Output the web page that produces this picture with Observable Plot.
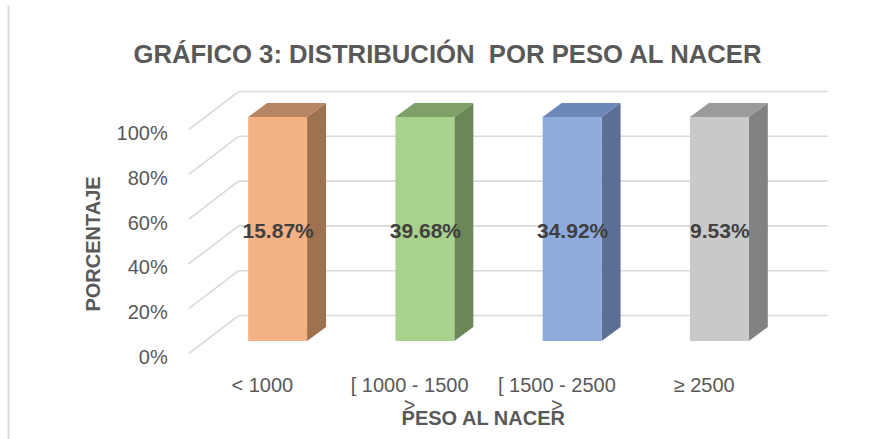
<!DOCTYPE html>
<html>
<head>
<meta charset="utf-8">
<script src="https://cdn.jsdelivr.net/npm/d3@7"></script>
<script src="https://cdn.jsdelivr.net/npm/@observablehq/plot@0.6"></script>
<style>
  html, body { margin: 0; padding: 0; background: #ffffff; }
  #chart { width: 878px; height: 439px; overflow: hidden; }
</style>
</head>
<body>
<div id="chart"></div>
<script>
// ---- data ----
const categories = ["< 1000", "[ 1000 - 1500>", "[ 1500 - 2500>", "≥ 2500"];
const percentages = [15.87, 39.68, 34.92, 9.53];     // data labels
const barShare = [100, 100, 100, 100];               // 100% stacked column heights
const yTicks = [0, 20, 40, 60, 80, 100];
const chartTitle = "GRÁFICO 3: DISTRIBUCIÓN\u00a0 POR PESO AL NACER";
const xTitle = "PESO AL NACER";
const yTitle = "PORCENTAJE";

// ---- styles ----
const frontColors = ["#F4B183", "#A9D18E", "#8FAADC", "#C9C9C9"];
const sideColors  = ["#9E714F", "#6B8757", "#5B6F94", "#828282"];
const topColors   = ["#B78564", "#7FA068", "#6D87B8", "#9B9B9B"];
const gridColor = "#D9D9D9";
const textColor = "#595959";

// ---- oblique 3D projection (in data units) ----
const HALF = 0.2;                       // half bar width (category units)
const BAR_DX = 0.129, BAR_DY = 6.25;    // bar depth
const FRONT_DX = -0.107, FRONT_DY = -5.36; // front edge of floor relative to bar front
const BACK_DX = 0.232, BACK_DY = 11.6;     // back wall relative to bar front
const WALL = [-0.5, 3.5];

const bars = categories.map((cat, i) => ({i, cat, h: barShare[i], pct: percentages[i]}));
const sideRows = bars.flatMap(d => [
  {i: d.i, x: d.i + HALF, y1: 0, y2: d.h},
  {i: d.i, x: d.i + HALF + BAR_DX, y1: BAR_DY, y2: d.h + BAR_DY}
]);
const topRows = bars.flatMap(d => [
  {i: d.i, y: d.h, x1: d.i - HALF, x2: d.i + HALF},
  {i: d.i, y: d.h + BAR_DY, x1: d.i - HALF + BAR_DX, x2: d.i + HALF + BAR_DX}
]);

const font = "'Liberation Sans', Arial, sans-serif";

const svg = Plot.plot({
  width: 878,
  height: 439,
  marginLeft: 204,
  marginRight: 85,
  marginTop: 117,
  marginBottom: 98,
  style: {fontFamily: font, background: "#ffffff", overflow: "visible"},
  x: {type: "linear", domain: WALL, axis: null},
  y: {type: "linear", domain: [0, 100], axis: null},
  color: {type: "identity"},
  marks: [
    // back wall gridlines
    Plot.link(yTicks, {
      x1: () => WALL[0] + BACK_DX, x2: () => WALL[1] + BACK_DX,
      y1: t => t + BACK_DY, y2: t => t + BACK_DY,
      stroke: gridColor, strokeWidth: 1.6
    }),
    // side wall diagonals
    Plot.link(yTicks, {
      x1: () => WALL[0] + FRONT_DX, y1: t => t + FRONT_DY,
      x2: () => WALL[0] + BACK_DX, y2: t => t + BACK_DY,
      stroke: gridColor, strokeWidth: 1.6
    }),
    // bar side faces
    Plot.areaY(sideRows, {x: "x", y1: "y1", y2: "y2", z: "i", fill: d => sideColors[d.i], curve: "linear"}),
    // bar top faces
    Plot.areaX(topRows, {y: "y", x1: "x1", x2: "x2", z: "i", fill: d => topColors[d.i], curve: "linear"}),
    // bar front faces
    Plot.rect(bars, {x1: d => d.i - HALF, x2: d => d.i + HALF, y1: () => 0, y2: "h", fill: d => frontColors[d.i]}),
    // value labels
    Plot.text(bars, {
      x: "i", y: d => d.h / 2, text: d => d.pct.toFixed(2) + "%",
      fontSize: 21, fontWeight: "bold", fill: "#404040", dy: 2
    }),
    // y tick labels
    Plot.text(yTicks, {
      x: () => WALL[0] + FRONT_DX, y: t => t + FRONT_DY, text: t => t + "%",
      textAnchor: "end", dx: -21, dy: 4, fontSize: 20, fill: textColor
    }),
    // category labels
    Plot.text(bars, {
      x: d => d.i + FRONT_DX, y: () => FRONT_DY,
      text: d => d.cat.replace(/>$/, "\n>"),
      lineAnchor: "top", lineHeight: 0.98, dy: 25, fontSize: 20, fill: textColor
    }),
    // x axis title
    Plot.text([xTitle], {
      x: () => (categories.length - 1) / 2 + FRONT_DX, y: () => FRONT_DY, text: d => d,
      dy: 65, fontSize: 20, fontWeight: "bold", fill: textColor
    }),
    // y axis title
    Plot.text([yTitle], {
      x: () => WALL[0] + FRONT_DX, y: () => 50 + FRONT_DY, text: d => d,
      rotate: -90, dx: -95, dy: 2.5, fontSize: 20, fontWeight: "bold", fill: textColor
    }),
    // chart title
    Plot.text([chartTitle], {
      frameAnchor: "top-left", textAnchor: "middle", text: d => d, dx: 243, dy: -73,
      fontSize: 25.7, fontWeight: "bold", fill: textColor
    })
  ]
});

// chart-area border (left edge visible in the reference)
d3.select(svg).append("line")
  .attr("x1", 8.5).attr("x2", 8.5).attr("y1", 6).attr("y2", 439)
  .attr("stroke", gridColor).attr("stroke-width", 2);

document.getElementById("chart").appendChild(svg);
</script>
</body>
</html>
